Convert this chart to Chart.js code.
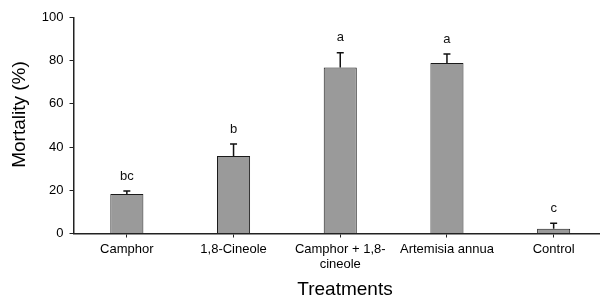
<!DOCTYPE html>
<html>
<head>
<meta charset="utf-8">
<script src="https://cdn.jsdelivr.net/npm/chart.js@4"></script>
<style>
  html, body { margin: 0; background: #fff; overflow: hidden; }
  #wrap { width: 607px; height: 299px; }
</style>
</head>
<body>
<div id="wrap"><canvas id="myChart"></canvas></div>
<script>
const treatments = ["Camphor", "1,8-Cineole", ["Camphor + 1,8-", "cineole"], "Artemisia annua", "Control"];
const mortality = [18.3, 35.9, 76.8, 78.9, 2.2];
const errUp = [1.4, 5.5, 6.9, 4.2, 2.5];
const letters = ["bc", "b", "a", "a", "c"];
const yTicks = [0, 20, 40, 60, 80, 100];

const font = "'Liberation Sans', Arial, sans-serif";

// error bars (upper only) + letters + axis titles
const extras = {
    id: "extras",
    afterDatasetsDraw(chart) {
        const ctx = chart.ctx;
        const x = chart.scales.x, y = chart.scales.y;
        const area = chart.chartArea;
        ctx.save();
        ctx.strokeStyle = "#111";
        ctx.lineWidth = 1.5;
        mortality.forEach((v, i) => {
            const px = x.getPixelForValue(i);
            const top = y.getPixelForValue(v);
            const hi = y.getPixelForValue(v + errUp[i]);
            ctx.beginPath();
            ctx.moveTo(px, top);
            ctx.lineTo(px, hi);
            ctx.moveTo(px - 3.5, hi);
            ctx.lineTo(px + 3.5, hi);
            ctx.stroke();
            ctx.fillStyle = "#111";
            ctx.font = "13px " + font;
            ctx.textAlign = "center";
            ctx.textBaseline = "middle";
            ctx.fillText(letters[i], px, hi - 15);
        });
        ctx.fillStyle = "#000";
        ctx.font = "19px " + font;
        ctx.textAlign = "center";
        ctx.textBaseline = "middle";
        ctx.fillText("Treatments", 345, chart.height - 9);
        ctx.translate(20, (area.top + area.bottom) / 2 - 11);
        ctx.rotate(-Math.PI / 2);
        ctx.fillText("Mortality (%)", 0, 0);
        ctx.restore();
    }
};

new Chart("myChart", {
    type: "bar",
    data: {
        labels: treatments,
        datasets: [{
            data: mortality,
            backgroundColor: "#9a9a9a",
            borderColor: "#1a1a1a",
            borderWidth: 1,
            barPercentage: 0.31,
            categoryPercentage: 1
        }]
    },
    options: {
        responsive: true,
        maintainAspectRatio: false,
        animation: false,
        layout: { padding: { top: 17.5, right: 0, left: 0, bottom: 0 } },
        plugins: { legend: { display: false }, tooltip: { enabled: false } },
        scales: {
            x: {
                grid: { drawOnChartArea: false, offset: false, tickLength: 4, color: "#222" },
                border: { color: "#222", width: 1.5 },
                ticks: { color: "#000", font: { family: font, size: 13 }, padding: 4, maxRotation: 0, autoSkip: false },
                afterFit(s) { s.height = 65.5; }
            },
            y: {
                min: 0,
                max: 100,
                afterBuildTicks(s) { s.ticks = yTicks.map(v => ({ value: v })); },
                grid: { drawOnChartArea: false, tickLength: 4, color: "#222" },
                border: { color: "#222", width: 1.5 },
                ticks: { color: "#000", font: { family: font, size: 13 }, padding: 6, maxRotation: 0 },
                afterFit(s) { s.width = 73.5; }
            }
        }
    },
    plugins: [extras]
});
</script>
</body>
</html>
